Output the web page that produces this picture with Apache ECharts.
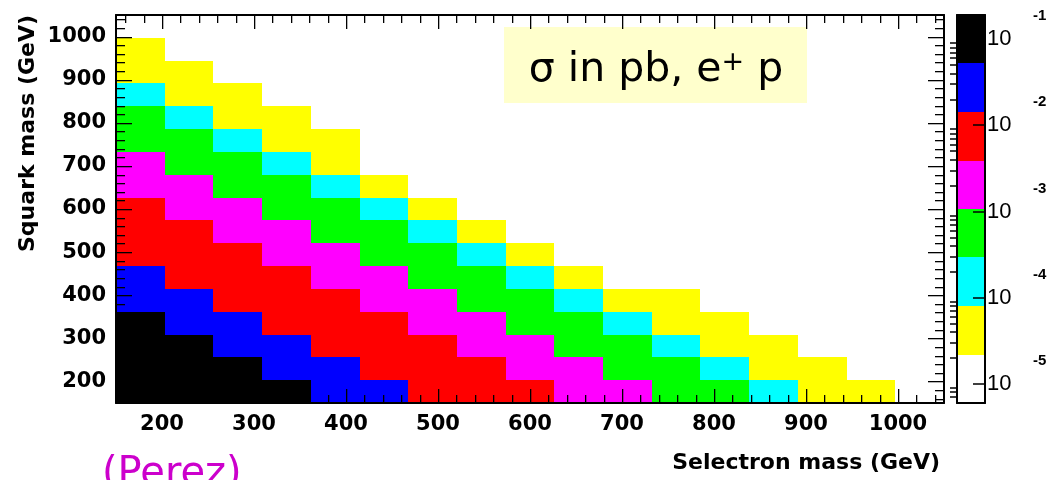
<!DOCTYPE html>
<html><head><meta charset="utf-8">
<script src="https://cdn.jsdelivr.net/npm/echarts@6/dist/echarts.min.js"></script>
<style>html,body{margin:0;padding:0;background:#fff}#c{width:1047px;height:480px}</style>
</head><body><div id="c"></div>
<script>
// ---- histogram binning (GeV) ----
const massMin = 150, massMax = 1050, nBins = 17;
// ---- axis tick labels ----
const xTickLabels = [200, 300, 400, 500, 600, 700, 800, 900, 1000];
const yTickLabels = [200, 300, 400, 500, 600, 700, 800, 900, 1000];
const zDecades = [1e-5, 1e-4, 1e-3, 1e-2, 1e-1];
// ---- colour scale (sigma in pb, log) ----
const zMin = 6.0e-6, zMax = 0.19;
const contourLevels = [6.0e-6, 2.19e-5, 7.94e-5, 2.95e-4, 1.07e-3, 3.89e-3, 1.41e-2, 5.25e-2, 0.19];
const contourColors = ['#ffffff', '#ffff00', '#00ffff', '#00ff00', '#ff00ff', '#ff0000', '#0000ff', '#000000'];
// ---- sigma (pb) per selectron-mass bin; values listed from the lowest squark-mass bin upward ----
const sel01 = [0.16, 0.12, 0.085, 0.062, 0.042, 0.024, 0.0125, 0.0078, 0.0048, 0.0031, 0.0017, 0.00095, 0.00052, 0.00019, 0.000072, 0.000034];
const sel02 = [0.13, 0.09, 0.06, 0.038, 0.02, 0.012, 0.0072, 0.0045, 0.0028, 0.0015, 0.0009, 0.00046, 0.00017, 0.000065, 0.000029];
const sel03 = [0.10, 0.068, 0.036, 0.018, 0.0115, 0.0068, 0.0042, 0.0026, 0.0014, 0.00085, 0.00042, 0.00016, 0.00006, 0.000027];
const sel04 = [0.075, 0.04, 0.021, 0.0128, 0.0075, 0.0044, 0.0027, 0.0015, 0.00088, 0.00046, 0.00017, 0.000063, 0.00003];
const sel05 = [0.046, 0.026, 0.0135, 0.0082, 0.0048, 0.003, 0.0016, 0.00093, 0.0005, 0.00018, 0.000068, 0.000033];
const sel06 = [0.03, 0.0122, 0.0074, 0.0043, 0.0026, 0.0014, 0.00082, 0.00044, 0.00016, 0.00006];
const sel07 = [0.0118, 0.0071, 0.0041, 0.0025, 0.0013, 0.0008, 0.00041, 0.00015, 0.000055];
const sel08 = [0.0088, 0.0052, 0.0032, 0.0018, 0.001, 0.00055, 0.00021, 0.00007];
const sel09 = [0.0058, 0.0035, 0.0019, 0.00098, 0.00055, 0.0002, 0.000066];
const sel10 = [0.0032, 0.0017, 0.0009, 0.00049, 0.00018, 0.00006];
const sel11 = [0.0019, 0.00095, 0.00052, 0.00019, 0.000062];
const sel12 = [0.00088, 0.00045, 0.00016, 0.000065, 0.000031];
const sel13 = [0.00048, 0.00016, 0.00006, 0.000028];
const sel14 = [0.00012, 0.000052, 0.000026];
const sel15 = [0.000048, 0.000025];
const sel16 = [0.000036];
const sel17 = [];
const columns = [sel01, sel02, sel03, sel04, sel05, sel06, sel07, sel08, sel09, sel10, sel11, sel12, sel13, sel14, sel15, sel16, sel17];

const binW = (massMax - massMin) / nBins;
const cells = [];
columns.forEach((col, i) => col.forEach((v, j) => {
  cells.push([massMin + (i + 0.5) * binW, massMin + (j + 0.5) * binW, v]);
}));
const paletteBands = contourColors.map((c, k) => [0.5, contourLevels[k], contourLevels[k + 1], k]);

function colorFor(v) {
  for (let k = contourColors.length - 1; k >= 0; k--) if (v >= contourLevels[k]) return contourColors[k];
  return '#ffffff';
}
// tick marks on the four sides of the frame: [value, isMajor, 0 = x axis / 1 = y axis]
const tickMarks = [];
for (let v = 160; v < massMax; v += 20) {
  tickMarks.push([v, xTickLabels.indexOf(v) >= 0 ? 1 : 0, 0]);
  tickMarks.push([v, yTickLabels.indexOf(v) >= 0 ? 1 : 0, 1]);
}
const minorLog = [];
[1e-6, 1e-5, 1e-4, 1e-3, 1e-2, 1e-1].forEach(d => { for (let m = 2; m <= 9; m++) { const v = d * m; if (v > zMin && v < zMax) minorLog.push(v); } });

const FONT = 'DejaVu Sans';
const lab = { fontFamily: FONT, fontWeight: 'bold', fontSize: 21, color: '#000' };

const MAIN = { left: 116, top: 15, width: 828, height: 388, outerBoundsMode: 'none', containLabel: false };
const PAL = { left: 957, top: 15, width: 28, height: 388, outerBoundsMode: 'none', containLabel: false };

function massAxis(pos, labels) {
  return {
    type: 'value', gridIndex: 0, position: pos, min: massMin, max: massMax, z: 5,
    splitLine: { show: false },
    axisLine: { show: true, onZero: false, lineStyle: { color: '#000', width: 2 } },
    axisTick: { show: false },
    axisLabel: labels ? Object.assign({
      show: true, margin: labels === 'x' ? 11 : 10,
      customValues: labels === 'x' ? xTickLabels : yTickLabels,
      formatter: v => String(v)
    }, lab) : { show: false }
  };
}
function plainAxis(grid, pos, type, lo, hi, line) {
  return { type: type, gridIndex: grid, position: pos, min: lo, max: hi, z: 5, splitLine: { show: false },
    axisLine: { show: !!line, onZero: false, lineStyle: { color: '#000', width: 2 } }, axisTick: { show: false }, axisLabel: { show: false } };
}

const xAxes = [
  massAxis('bottom', 'x'),
  massAxis('top', null),
  plainAxis(1, 'bottom', 'value', 0, 1, true),
  plainAxis(1, 'top', 'value', 0, 1, true),
  plainAxis(2, 'bottom', 'value', 0, 1, false),
  plainAxis(3, 'bottom', 'value', 0, 1, false)
];
const yAxes = [
  massAxis('left', 'y'),
  massAxis('right', null),
  { type: 'log', logBase: 10, gridIndex: 1, position: 'right', min: zMin, max: zMax, z: 5, splitLine: { show: false },
    axisLine: { show: true, onZero: false, lineStyle: { color: '#000', width: 2 } },
    axisTick: { show: true, inside: true, length: 12, customValues: zDecades, lineStyle: { color: '#000', width: 1.5 } },
    axisLabel: { show: true, customValues: zDecades, margin: 2, formatter: () => '10', fontFamily: 'Liberation Sans', fontSize: 22, color: '#000' } },
  plainAxis(1, 'left', 'log', zMin, zMax, true),
  { type: 'log', logBase: 10, gridIndex: 2, position: 'right', min: zMin, max: zMax, z: 5, splitLine: { show: false },
    axisLine: { show: false }, axisTick: { show: true, inside: true, length: 7, customValues: minorLog, lineStyle: { color: '#000', width: 1.5 } },
    axisLabel: { show: false } },
  { type: 'log', logBase: 10, gridIndex: 3, position: 'right', min: zMin, max: zMax, z: 5, splitLine: { show: false },
    axisLine: { show: false }, axisTick: { show: false },
    axisLabel: { show: true, customValues: zDecades, margin: 48,
      formatter: v => '{e|' + Math.round(Math.log10(v)) + '}',
      rich: { e: { fontFamily: 'Liberation Sans', fontWeight: 'bold', fontSize: 15, color: '#000', padding: [0, 0, 46, 0] } } } }
];

const chart = echarts.init(document.getElementById('c'), null, { renderer: 'canvas' });
chart.setOption({
  backgroundColor: '#ffffff',
  animation: false,
  grid: [MAIN, PAL, Object.assign({}, PAL), Object.assign({}, PAL)],
  xAxis: xAxes,
  yAxis: yAxes,
  series: [
    {
      type: 'custom', xAxisIndex: 0, yAxisIndex: 0, data: cells, z: 1,
      renderItem: (params, api) => {
        const x = api.value(0), y = api.value(1), v = api.value(2), h = binW / 2;
        const p0 = api.coord([x - h, y + h]), p1 = api.coord([x + h, y - h]);
        const x0 = Math.round(p0[0]), y0 = Math.round(p0[1]), x1 = Math.round(p1[0]), y1 = Math.round(p1[1]);
        return { type: 'rect', shape: { x: x0, y: y0, width: x1 - x0, height: y1 - y0 }, style: { fill: colorFor(v) } };
      }
    },
    {
      // frame tick marks, placed through the mass axes
      type: 'custom', xAxisIndex: 0, yAxisIndex: 0, data: tickMarks, z: 20, silent: true, clip: false,
      renderItem: (params, api) => {
        const v = api.value(0), major = api.value(1) === 1, isY = api.value(2) === 1;
        const ink = { fill: '#000' };
        if (!isY) {
          const L = major ? 14 : 8;
          const b = api.coord([v, massMin]), t = api.coord([v, massMax]);
          const x = Math.round(b[0]);
          return { type: 'group', children: [
            { type: 'rect', shape: { x: x, y: b[1] - L, width: 1.3, height: L }, style: ink },
            { type: 'rect', shape: { x: x, y: t[1], width: 1.3, height: L }, style: ink }
          ] };
        }
        const L = major ? 16 : 9;
        const l = api.coord([massMin, v]), r = api.coord([massMax, v]);
        const y = Math.round(l[1]);
        return { type: 'group', children: [
          { type: 'rect', shape: { x: l[0], y: y, width: L, height: 1.3 }, style: ink },
          { type: 'rect', shape: { x: r[0] - L, y: y, width: L, height: 1.3 }, style: ink }
        ] };
      }
    },
    {
      type: 'custom', xAxisIndex: 2, yAxisIndex: 2, data: paletteBands, z: 1,
      renderItem: (params, api) => {
        const lo = api.value(1), hi = api.value(2), k = api.value(3);
        const p0 = api.coord([0, hi]), p1 = api.coord([1, lo]);
        const x0 = Math.round(p0[0]), y0 = Math.round(p0[1]), x1 = Math.round(p1[0]), y1 = Math.round(p1[1]);
        return { type: 'rect', shape: { x: x0, y: y0, width: x1 - x0, height: y1 - y0 }, style: { fill: contourColors[k] } };
      }
    }
  ],
  graphic: [
    { type: 'rect', left: 504, top: 27, shape: { width: 303, height: 76 }, style: { fill: '#ffffcc' }, z: 10 },
    { type: 'text', x: 656, y: 70, z: 11, style: {
      text: '{a|σ in pb, e}{s|+}{a| p}', align: 'center', verticalAlign: 'middle',
      rich: { a: { fontFamily: FONT, fontSize: 41, color: '#000', verticalAlign: 'bottom' },
              s: { fontFamily: FONT, fontSize: 27, color: '#000', verticalAlign: 'top' } } } },
    { type: 'text', x: 940, y: 463, z: 11, style: { text: 'Selectron mass (GeV)', align: 'right', verticalAlign: 'middle',
      fontFamily: FONT, fontWeight: 'bold', fontSize: 22, fill: '#000' } },
    { type: 'text', x: 28, y: 15, rotation: Math.PI / 2, z: 11, style: { text: 'Squark mass (GeV)', align: 'right', verticalAlign: 'middle',
      fontFamily: FONT, fontWeight: 'bold', fontSize: 22, fill: '#000' } },
    { type: 'text', x: 102, y: 455, z: 11, style: { text: '(Perez)', align: 'left', verticalAlign: 'top',
      fontFamily: FONT, fontSize: 40, fill: '#cc00cc' } }
  ]
});
</script></body></html>
